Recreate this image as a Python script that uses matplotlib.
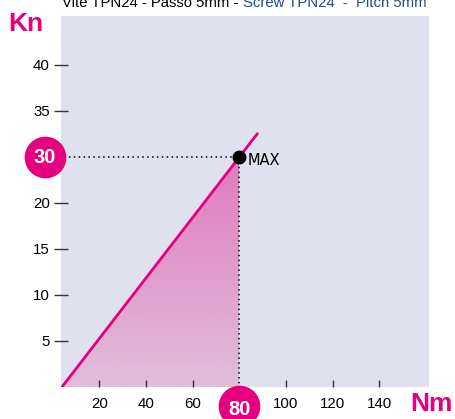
import matplotlib.pyplot as plt
import numpy as np
from matplotlib.colors import LinearSegmentedColormap
from matplotlib.patches import Polygon

# data
x_ticks = [20, 40, 60, 80, 100, 120, 140]
x_labels = ['20', '40', '60', '', '100', '120', '140']
y_ticks = [5, 10, 15, 20, 30, 35]          # positions on the drawn axis
y_labels = ['5', '10', '15', '20', '35', '40']
line_x = [4, 88]
line_y = [0, 27.6]
max_nm = 80
max_pos = 25          # where the max sits on the drawn axis
max_kn_label = '30'
max_nm_label = '80'

magenta = '#e5007d'
bg = '#dfe1ee'
narrow = ['Liberation Sans Narrow', 'Liberation Sans']

fig = plt.figure(figsize=(4.56, 4.19), dpi=100)
ax = fig.add_axes([61/456, 1-387/419, (429-61)/456, (387-16)/419])
ax.set_facecolor(bg)
for s in ax.spines.values():
    s.set_visible(False)

# gradient fill under the line up to the max
grad = np.linspace(0, 1, 256).reshape(-1, 1)
cmap = LinearSegmentedColormap.from_list('pk', ['#e0bedb', '#e07bbd'])
im = ax.imshow(grad, extent=[line_x[0], max_nm, 0, max_pos], origin='lower',
               cmap=cmap, aspect='auto', zorder=1)
poly = Polygon([[line_x[0], 0], [max_nm, 0], [max_nm, max_pos]],
               closed=True, facecolor='none', edgecolor='none')
ax.add_patch(poly)
im.set_clip_path(poly)

ax.plot(line_x, line_y, color=magenta, lw=2, zorder=3, solid_capstyle='butt')

# dotted guides
ax.plot([4.9, max_nm], [max_pos, max_pos], color='black', lw=1.1,
        ls=(0, (1, 2.2)), zorder=2)
ax.plot([max_nm, max_nm], [max_pos, -1.5], color='black', lw=1.1,
        ls=(0, (1, 2.2)), zorder=2, clip_on=False)

ax.plot([max_nm], [max_pos], 'o', color='black', ms=9, zorder=4)
ax.text(max_nm + 3.7, max_pos - 0.4, 'MAX', fontsize=10.5, va='center',
        ha='left', color='black')

ax.set_xlim(3.6, 161.3)
ax.set_ylim(0, 40.3)

ax.set_xticks(x_ticks)
ax.set_xticklabels(x_labels, family=narrow, fontsize=10.8)
ax.set_yticks(y_ticks)
ax.set_yticklabels(y_labels, family=narrow, fontsize=10.8)
ax.tick_params(axis='x', direction='in', length=5, width=1, color='#333333',
               pad=7)
ax.tick_params(axis='y', direction='inout', length=10, width=1,
               color='#333333', pad=3)
ax.xaxis.get_major_ticks()[3].tick1line.set_visible(False)

# bubbles
ax.plot([-3.3], [max_pos], 'o', color=magenta, ms=29, clip_on=False, zorder=5)
ax.text(-3.3, max_pos - 0.1, max_kn_label, color='white', fontsize=14.5,
        fontweight='bold', ha='center', va='center', zorder=6,
        family='Liberation Sans')
ax.plot([max_nm], [-2.1], 'o', color=magenta, ms=29, clip_on=False, zorder=5)
ax.text(max_nm, -2.4, max_nm_label, color='white', fontsize=14.5,
        fontweight='bold', ha='center', va='center', zorder=6,
        family='Liberation Sans')

# axis names
fig.text(8/456, 1-31/419, 'Kn', color=magenta, fontsize=19, fontweight='bold',
         family='Liberation Sans', ha='left', va='baseline')
fig.text(410/456, 1-411/419, 'Nm', color=magenta, fontsize=19,
         fontweight='bold', family='Liberation Sans', ha='left',
         va='baseline')

# title, cut at the top
fig.text(238/456, 1-7.3/419, 'Vite TPN24 - Passo 5mm -', color='black',
         fontsize=10.7, family='Liberation Sans', ha='right', va='baseline')
fig.text(243/456, 1-7.3/419, 'Screw TPN24  -  Pitch 5mm', color='#1f4d8c',
         fontsize=10.7, family='Liberation Sans', ha='left', va='baseline')

fig.savefig('out.png', dpi=100)
